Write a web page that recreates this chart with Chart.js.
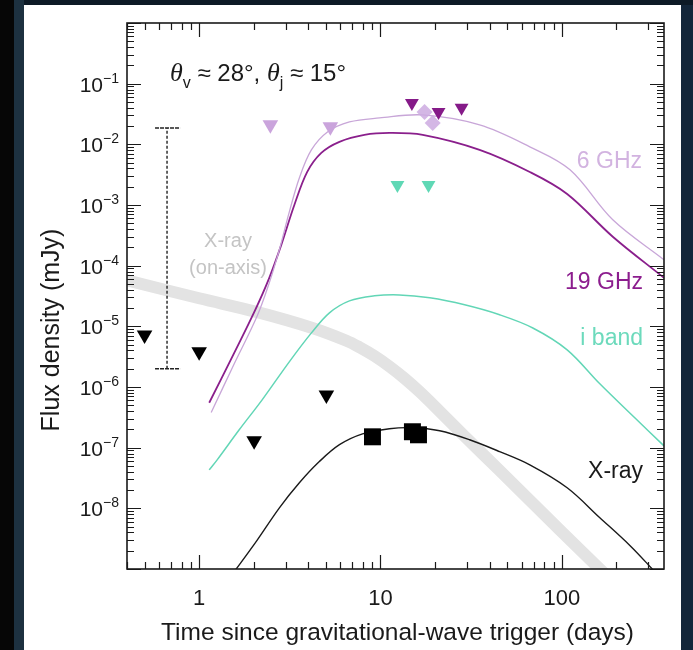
<!DOCTYPE html>
<html><head><meta charset="utf-8">
<script src="https://cdn.jsdelivr.net/npm/chart.js@4/dist/chart.umd.min.js"></script>
<style>
html,body{margin:0;padding:0;width:693px;height:650px;overflow:hidden;background:#13263a;}
#top{position:absolute;left:0;top:0;width:693px;height:5px;background:#0d1a26;}
#left{position:absolute;left:0;top:0;width:14px;height:650px;background:#060606;}
#strip{position:absolute;left:14px;top:0;width:10px;height:650px;background:#1d3140;}
#panel{position:absolute;left:24px;top:5px;width:657px;height:645px;background:#fff;}
canvas{display:block;}
</style></head><body>
<div id="top"></div><div id="left"></div><div id="strip"></div>
<div id="panel"><canvas id="c" width="657" height="645"></canvas></div>
<script>
// ---- data (time in days, flux density in mJy) ----
const onAxisT = [0.395, 1.0, 2.07, 4.21, 6.49, 7.66, 9.27, 11.21, 13.57, 16.42, 18.65, 29.1, 45.4, 97.5, 162, 270];
const onAxisF = [5.8e-5, 2.9e-5, 1.73e-5, 9.4e-6, 5.8e-6, 4.53e-6, 3.24e-6, 2.18e-6, 1.39e-6, 8.4e-7, 5.8e-7, 1.54e-7, 4.2e-8, 4.4e-9, 1.0e-9, 2.3e-10];

const ghz6T = [1.165, 1.561, 2.091, 2.436, 2.767, 3.142, 3.568, 4.158, 5.10, 6.743, 9.874, 17.1, 35.2, 66.6, 111, 191, 366];
const ghz6F = [3.8e-7, 2.41e-6, 1.49e-5, 5.21e-5, 1.82e-4, 7.69e-4, 2.79e-3, 8.09e-3, 1.60e-2, 2.34e-2, 2.72e-2, 3.05e-2, 2.09e-2, 9.1e-3, 3.8e-3, 5.7e-4, 1.25e-4];

const ghz19T = [1.136, 1.561, 2.039, 2.436, 2.837, 3.349, 3.944, 4.716, 5.936, 8.15, 11.2, 17.1, 35.2, 66.6, 107, 191, 366];
const ghz19F = [5.5e-7, 3.66e-6, 1.87e-5, 6.3e-5, 2.2e-4, 1.0e-3, 3.51e-3, 7.22e-3, 1.10e-2, 1.43e-2, 1.54e-2, 1.43e-2, 8.1e-3, 3.5e-3, 1.52e-3, 3.0e-4, 6.3e-5];

const ibandT = [1.136, 1.257, 1.663, 2.23, 3.14, 4.16, 5.23, 6.74, 9.27, 12.7, 18.7, 29.1, 45.4, 69.2, 107, 162, 250, 366];
const ibandF = [4.3e-8, 6.3e-8, 1.97e-7, 6.2e-7, 2.6e-6, 7.8e-6, 1.67e-5, 2.63e-5, 3.18e-5, 3.30e-5, 2.95e-5, 2.26e-5, 1.55e-5, 9.4e-6, 4.1e-6, 1.13e-6, 3.2e-7, 1.07e-7];

const xrayT = [1.39, 1.60, 2.09, 2.77, 3.57, 4.60, 5.94, 7.96, 11.2, 15.0, 21.2, 31.0, 45.4, 66.6, 107, 162, 238, 326, 395];
const xrayF = [5.7e-10, 1.0e-9, 3.0e-9, 1.02e-8, 2.64e-8, 5.9e-8, 1.12e-7, 1.69e-7, 2.05e-7, 2.13e-7, 1.90e-7, 1.35e-7, 8.6e-8, 5.2e-8, 2.18e-8, 7.0e-9, 2.42e-9, 9.0e-10, 4.9e-10];

// observations
const xrayUlT = [0.50, 1.0, 2.01, 5.03];
const xrayUlF = [7.2e-6, 3.8e-6, 1.30e-7, 7.4e-7];
const xrayDetT = [9.03, 15.0, 16.2];
const xrayDetF = [1.51e-7, 1.83e-7, 1.63e-7];
const ghz19UlT = [14.9, 20.9, 28.0];
const ghz19UlF = [0.048, 0.034, 0.040];
const ghz6UlT = [2.47, 5.29];
const ghz6UlF = [0.021, 0.0194];
const ghz6DetT = [17.5, 19.4];
const ghz6DetF = [0.034, 0.0225];
const ibandUlT = [12.4, 18.4];
const ibandUlF = [2.14e-3, 2.14e-3];

// on-axis X-ray range bar
const errT = [0.665];
const errCapT = [0.571, 0.785];
const errLo = [2.0e-6];
const errHi = [1.86e-2];

// axes
const xRange = [0.4, 366];
const yRange = [1e-9, 1];
const xTickLabels = [1, 10, 100];
const yTickExps = [-1, -2, -3, -4, -5, -6, -7, -8];

// ---- build ----
const pts = (T, F) => T.map((t, i) => ({x: t, y: F[i]}));
const SANS = '"Liberation Sans", Arial, Helvetica, sans-serif';
const SERIF = '"Liberation Serif", "Times New Roman", serif';

function logTicks(min, max) {
  const out = [];
  for (let e = Math.floor(Math.log10(min)); e <= Math.ceil(Math.log10(max)); e++) {
    for (let m = 1; m <= 9; m++) {
      const v = m * Math.pow(10, e);
      if (v >= min * 0.9999 && v <= max * 1.0001) out.push({value: v});
    }
  }
  return out;
}
const isDecade = v => Math.abs(Math.log10(v) - Math.round(Math.log10(v))) < 1e-6;

const curve = (data, color, width, order) => ({
  data, borderColor: color, borderWidth: width, pointRadius: 0, showLine: true,
  tension: 0.35, clip: 0, order, fill: false
});
const marks = (data, style, color, radius, rot, order) => ({
  data, showLine: false, pointStyle: style, pointRadius: radius, pointRotation: rot,
  pointBackgroundColor: color, pointBorderWidth: 0, borderColor: color, order, clip: false
});

const decor = {
  id: 'decor',
  afterDraw(chart) {
    const {ctx, chartArea: ca, scales: {x, y}} = chart;
    ctx.save();
    // ticks (inward, on all four sides)
    ctx.strokeStyle = '#1a1a1a';
    ctx.lineWidth = 1.2;
    ctx.beginPath();
    for (const t of x.ticks) {
      const px = Math.round(x.getPixelForValue(t.value)) + 0.5;
      const L = isDecade(t.value) ? 14 : 7;
      ctx.moveTo(px, ca.bottom); ctx.lineTo(px, ca.bottom - L);
      ctx.moveTo(px, ca.top); ctx.lineTo(px, ca.top + L);
    }
    for (const t of y.ticks) {
      const py = Math.round(y.getPixelForValue(t.value)) + 0.5;
      const L = isDecade(t.value) ? 14 : 7;
      ctx.moveTo(ca.left, py); ctx.lineTo(ca.left + L, py);
      ctx.moveTo(ca.right, py); ctx.lineTo(ca.right - L, py);
    }
    ctx.stroke();
    ctx.lineWidth = 1.6;
    ctx.strokeRect(ca.left, ca.top, ca.right - ca.left, ca.bottom - ca.top);

    ctx.fillStyle = '#1a1a1a';
    ctx.textBaseline = 'alphabetic';
    // x tick labels
    ctx.font = '22px ' + SANS;
    ctx.textAlign = 'center';
    for (const v of xTickLabels) ctx.fillText(String(v), x.getPixelForValue(v), ca.bottom + 36);
    // y tick labels 10^n
    ctx.textAlign = 'left';
    for (const e of yTickExps) {
      const py = y.getPixelForValue(Math.pow(10, e));
      const ex = '\u2212' + Math.abs(e);
      ctx.font = '14px ' + SANS; const we = ctx.measureText(ex).width;
      ctx.font = '21px ' + SANS; const wb = ctx.measureText('10').width;
      const r = ca.left - 8;
      ctx.fillText('10', r - we - wb, py + 8);
      ctx.font = '14px ' + SANS;
      ctx.fillText(ex, r - we, py - 1);
    }
    // axis titles
    ctx.font = '24.5px ' + SANS;
    ctx.textAlign = 'center';
    ctx.fillText('Time since gravitational-wave trigger (days)', (ca.left + ca.right) / 2 + 2, ca.bottom + 71);
    ctx.save();
    ctx.translate(35, (ca.top + ca.bottom) / 2 + 34);
    ctx.rotate(-Math.PI / 2);
    ctx.font = '25px ' + SANS;
    ctx.fillText('Flux density (mJy)', 0, 0);
    ctx.restore();

    // angle annotation
    let xx = ca.left + 43; const by = ca.top + 58;
    const seg = (txt, font, dy) => { ctx.font = font; ctx.textAlign = 'left'; ctx.fillText(txt, xx, by + dy); xx += ctx.measureText(txt).width; };
    seg('\u03B8', 'italic 26px ' + SERIF, 0);
    seg('v', '16px ' + SANS, 7);
    seg(' \u2248 28\u00B0, ', '24px ' + SANS, 0);
    seg('\u03B8', 'italic 26px ' + SERIF, 0);
    seg('j', '16px ' + SANS, 7);
    seg(' \u2248 15\u00B0', '24px ' + SANS, 0);

    // curve labels
    ctx.font = '20px ' + SANS;
    ctx.textAlign = 'center';
    ctx.fillStyle = '#c4c4c4';
    ctx.fillText('X-ray', ca.left + 101, ca.top + 224);
    ctx.fillText('(on-axis)', ca.left + 101, ca.top + 251);
    ctx.font = '23px ' + SANS;
    ctx.textAlign = 'right';
    ctx.fillStyle = '#d2b3e0'; ctx.fillText('6 GHz', ca.right - 22, ca.top + 145);
    ctx.fillStyle = '#8c1d8e'; ctx.fillText('19 GHz', ca.right - 21, ca.top + 266);
    ctx.fillStyle = '#6cdabc'; ctx.fillText('i band', ca.right - 21, ca.top + 322);
    ctx.fillStyle = '#1a1a1a'; ctx.fillText('X-ray', ca.right - 21, ca.top + 455);
    ctx.restore();
  }
};

const datasets = [
  marks(pts(ghz6DetT, ghz6DetF), 'rectRot', 'rgba(205,170,225,0.85)', 8, 0, 0),
  marks(pts(ghz19UlT, ghz19UlF), 'triangle', '#851a88', 8, 180, 1),
  marks(pts(ghz6UlT, ghz6UlF), 'triangle', '#caa4dc', 9, 180, 1),
  marks(pts(ibandUlT, ibandUlF), 'triangle', '#5fd8b5', 8, 180, 1),
  marks(pts(xrayUlT, xrayUlF), 'triangle', '#000', 9, 180, 1),
  marks(pts(xrayDetT, xrayDetF), 'rect', '#000', 12, 0, 1),
  curve(pts(ghz6T, ghz6F), '#c8a6d8', 1.3, 3),
  curve(pts(ghz19T, ghz19F), '#8a1f8c', 1.8, 3),
  curve(pts(ibandT, ibandF), '#62d6b6', 1.5, 3),
  curve(pts(xrayT, xrayF), '#1a1a1a', 1.4, 3),
  {data: [{x: errT[0], y: errLo[0]}, {x: errT[0], y: errHi[0]}], borderColor: '#222', borderWidth: 1.4, borderDash: [3, 2], pointRadius: 0, showLine: true, clip: 0, order: 5},
  {data: [{x: errCapT[0], y: errLo[0]}, {x: errCapT[1], y: errLo[0]}], borderColor: '#222', borderWidth: 1.4, borderDash: [4, 1], pointRadius: 0, showLine: true, clip: 0, order: 5},
  {data: [{x: errCapT[0], y: errHi[0]}, {x: errCapT[1], y: errHi[0]}], borderColor: '#222', borderWidth: 1.4, borderDash: [4, 1], pointRadius: 0, showLine: true, clip: 0, order: 5},
  curve(pts(onAxisT, onAxisF), '#e3e3e3', 12, 10)
];

new Chart(document.getElementById('c'), {
  type: 'line',
  data: {datasets},
  options: {
    responsive: false, animation: false, devicePixelRatio: 1,
    events: [],
    layout: {padding: {left: 0, right: 17, top: 18, bottom: 0}},
    elements: {line: {capBezierPoints: false}},
    plugins: {legend: {display: false}, tooltip: {enabled: false}},
    scales: {
      x: {
        type: 'logarithmic', min: xRange[0], max: xRange[1],
        grid: {display: false}, border: {display: false},
        ticks: {display: false},
        afterBuildTicks: s => { s.ticks = logTicks(xRange[0], xRange[1]); },
        afterFit: s => { s.height = 81; }
      },
      y: {
        type: 'logarithmic', min: yRange[0], max: yRange[1],
        grid: {display: false}, border: {display: false},
        ticks: {display: false},
        afterBuildTicks: s => { s.ticks = logTicks(yRange[0], yRange[1]); },
        afterFit: s => { s.width = 103; }
      }
    }
  },
  plugins: [decor]
});
</script></body></html>
